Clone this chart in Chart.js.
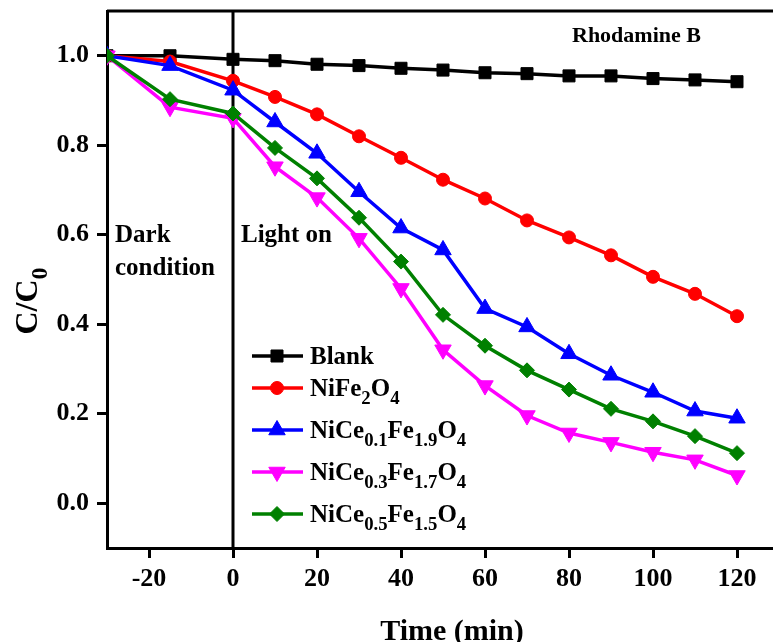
<!DOCTYPE html>
<html>
<head>
<meta charset="utf-8">
<script src="https://cdn.jsdelivr.net/npm/chart.js@4.4.1/dist/chart.umd.min.js"></script>
<style>
  html, body { margin: 0; padding: 0; background: #fff; overflow: hidden; }
  #wrap { width: 790px; height: 642px; }
</style>
</head>
<body>
<div id="wrap"><canvas id="rhbChart"></canvas></div>
<script>
// sampling times (min); negative = dark adsorption stage
const times = [-30, -15, 0, 10, 20, 30, 40, 50, 60, 70, 80, 90, 100, 110, 120];

// C/C0 for each sample
const blank = [1.0, 1.0, 0.992, 0.989, 0.981, 0.978, 0.972, 0.968, 0.962, 0.960, 0.955, 0.955, 0.949, 0.946, 0.942];
const nife2o4 = [1.0, 0.987, 0.944, 0.908, 0.869, 0.820, 0.772, 0.723, 0.681, 0.632, 0.594, 0.554, 0.506, 0.468, 0.418];
const ce01 = [1.0, 0.978, 0.923, 0.852, 0.782, 0.696, 0.615, 0.566, 0.435, 0.394, 0.334, 0.286, 0.248, 0.206, 0.190];
const ce03 = [1.0, 0.885, 0.860, 0.752, 0.683, 0.592, 0.480, 0.343, 0.263, 0.196, 0.157, 0.136, 0.114, 0.097, 0.062];
const ce05 = [1.0, 0.903, 0.871, 0.794, 0.726, 0.638, 0.540, 0.421, 0.352, 0.297, 0.254, 0.211, 0.183, 0.150, 0.112];

// labels use _{...} for subscripts
const seriesNames = ['Blank', 'NiFe_{2}O_{4}', 'NiCe_{0.1}Fe_{1.9}O_{4}', 'NiCe_{0.3}Fe_{1.7}O_{4}', 'NiCe_{0.5}Fe_{1.5}O_{4}'];
const seriesValues = [blank, nife2o4, ce01, ce03, ce05];

const xTicks = [-20, 0, 20, 40, 60, 80, 100, 120];
const yTicks = [0.0, 0.2, 0.4, 0.6, 0.8, 1.0];

const serif = "'Liberation Serif', 'Times New Roman', serif";

const styles = [
  { color: '#000000', pointStyle: 'rect', radius: 8.5, rotation: 0 },
  { color: '#ff0000', pointStyle: 'circle', radius: 6.5, rotation: 0 },
  { color: '#0000ff', pointStyle: 'triangle', radius: 9.5, rotation: 0 },
  { color: '#ff00ff', pointStyle: 'triangle', radius: 9.5, rotation: 180 },
  { color: '#008000', pointStyle: 'rectRot', radius: 7.5, rotation: 0 }
];

const datasets = seriesValues.map((vals, i) => ({
  label: seriesNames[i],
  data: times.map((t, k) => ({ x: t, y: vals[k] })),
  borderColor: styles[i].color,
  backgroundColor: styles[i].color,
  borderWidth: 3.5,
  pointStyle: styles[i].pointStyle,
  pointRadius: styles[i].radius,
  pointRotation: styles[i].rotation,
  pointBorderWidth: 1,
  tension: 0,
  // later series sit on top
  order: seriesValues.length - i
}));

function drawRich(ctx, str, x, y, size) {
  const parts = str.split(/_\{([^}]*)\}/);
  parts.forEach((p, i) => {
    if (!p) return;
    const sub = i % 2 === 1;
    const fs = sub ? size * 0.75 : size;
    ctx.font = `bold ${fs}px ${serif}`;
    ctx.fillText(p, x, y + (sub ? size * 0.3 : 0));
    x += ctx.measureText(p).width;
  });
}

const legendRows = [356, 388, 430, 472, 514];

const extras = {
  id: 'extras',
  beforeDatasetsDraw(chart) {
    const { ctx, chartArea: a, scales } = chart;
    ctx.save();
    ctx.strokeStyle = '#000';
    ctx.lineWidth = 3;
    // top and right frame
    ctx.beginPath();
    ctx.moveTo(a.left, a.top);
    ctx.lineTo(a.right, a.top);
    ctx.lineTo(a.right, a.bottom);
    ctx.stroke();
    // light switched on at t = 0
    const x0 = scales.x.getPixelForValue(0);
    ctx.beginPath();
    ctx.moveTo(x0, a.top);
    ctx.lineTo(x0, a.bottom);
    ctx.stroke();
    ctx.restore();
  },
  afterDraw(chart) {
    const { ctx, chartArea: a, scales } = chart;
    const x0 = scales.x.getPixelForValue(0);
    ctx.save();
    ctx.fillStyle = '#000';
    ctx.textAlign = 'left';
    ctx.textBaseline = 'alphabetic';

    ctx.font = `bold 25px ${serif}`;
    ctx.fillText('Dark', a.left + 8, 242);
    ctx.fillText('condition', a.left + 8, 275);
    ctx.fillText('Light on', x0 + 8, 242);

    ctx.font = `bold 22px ${serif}`;
    ctx.fillText('Rhodamine B', 572, 42);

    // axis titles
    ctx.textAlign = 'center';
    ctx.font = `bold 30px ${serif}`;
    ctx.fillText('Time (min)', 452, 640);

    ctx.save();
    ctx.translate(37, 301);
    ctx.rotate(-Math.PI / 2);
    ctx.textAlign = 'left';
    ctx.font = `bold 32px ${serif}`;
    const w1 = ctx.measureText('C/C').width;
    ctx.font = `bold ${32 * 0.75}px ${serif}`;
    const w2 = ctx.measureText('0').width;
    drawRich(ctx, 'C/C_{0}', -(w1 + w2) / 2, 0, 32);
    ctx.restore();

    // legend
    chart.data.datasets.forEach((ds, i) => {
      const y = legendRows[i];
      ctx.strokeStyle = ds.borderColor;
      ctx.fillStyle = ds.backgroundColor;
      ctx.lineWidth = 3.5;
      ctx.beginPath();
      ctx.moveTo(252, y);
      ctx.lineTo(303, y);
      ctx.stroke();
      ctx.lineWidth = 1;
      Chart.helpers.drawPoint(ctx, {
        pointStyle: ds.pointStyle,
        rotation: ds.pointRotation,
        radius: ds.pointRadius,
        borderWidth: 1
      }, 277, y);
      ctx.fillStyle = '#000';
      ctx.textAlign = 'left';
      drawRich(ctx, ds.label, 310, y + 8, 25);
    });
    ctx.restore();
  }
};

const tickFont = { family: serif, size: 26, weight: 'bold' };

new Chart(document.getElementById('rhbChart'), {
  type: 'line',
  data: { datasets },
  options: {
    responsive: true,
    maintainAspectRatio: false,
    animation: false,
    layout: { padding: { top: 11, right: 11, left: 0, bottom: 0 } },
    plugins: { legend: { display: false }, tooltip: { enabled: false } },
    scales: {
      x: {
        type: 'linear',
        min: -30,
        max: 130,
        afterBuildTicks: (s) => { s.ticks = xTicks.map(v => ({ value: v })); },
        afterFit: (s) => { s.height = 94; s.paddingLeft = 0; s.paddingRight = 0; },
        ticks: { font: tickFont, color: '#000', padding: 6, maxRotation: 0 },
        grid: { drawOnChartArea: false, drawTicks: true, tickLength: 10, tickWidth: 3, tickColor: '#000' },
        border: { display: true, width: 3, color: '#000' }
      },
      y: {
        type: 'linear',
        min: -0.1,
        max: 1.1,
        afterBuildTicks: (s) => { s.ticks = yTicks.map(v => ({ value: v })); },
        afterFit: (s) => { s.width = 107; s.paddingTop = 0; s.paddingBottom = 0; },
        ticks: { font: tickFont, color: '#000', padding: 8, callback: v => v.toFixed(1) },
        grid: { drawOnChartArea: false, drawTicks: true, tickLength: 10, tickWidth: 3, tickColor: '#000' },
        border: { display: true, width: 3, color: '#000' }
      }
    }
  },
  plugins: [extras]
});
</script>
</body>
</html>
